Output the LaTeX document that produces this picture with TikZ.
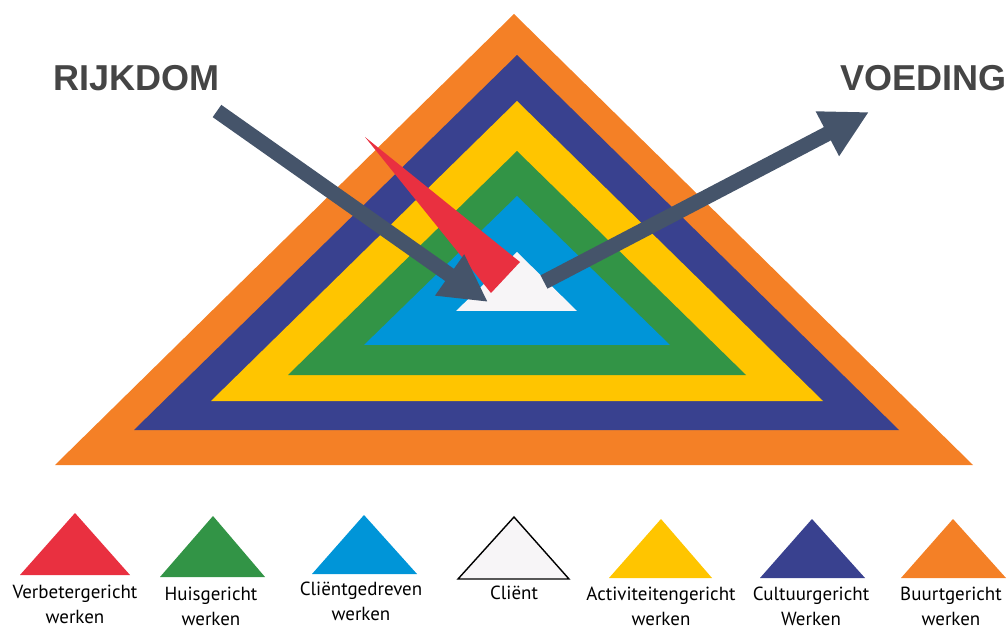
\documentclass[tikz,border=0pt]{standalone}
\usepackage{fontspec}
\setmainfont{PT Sans}
\newfontfamily\headfont{Liberation Sans}
\usepackage{tikz}
\usetikzlibrary{arrows.meta,positioning}
\definecolor{BandOrange}{RGB}{244,128,38}
\definecolor{BandNavy}{RGB}{57,65,143}
\definecolor{BandYellow}{RGB}{255,197,0}
\definecolor{BandGreen}{RGB}{50,148,70}
\definecolor{BandSky}{RGB}{0,149,216}
\definecolor{BandRed}{RGB}{233,48,64}
\definecolor{ClientWhite}{RGB}{247,245,247}
\definecolor{ArrowSlate}{RGB}{69,84,106}
\definecolor{HeadGray}{RGB}{69,69,69}
\tikzset{
  heading/.style={font=\headfont\bfseries\fontsize{20.5}{24}\selectfont,text=HeadGray,anchor=base west,inner sep=0pt},
  leglabel/.style={font=\fontsize{10.8}{14.2}\selectfont,align=center,anchor=base,inner sep=0pt,text=black},
  bigarr/.style={-{Triangle[length=0.94cm,width=0.94cm]},ArrowSlate,line width=0.3cm},
}

\begin{document}
\begin{tikzpicture}[x=0.02cm,y=-0.02cm]
    \useasboundingbox (0,0) rectangle (1008,628);
    %% Nested bands
    \fill[BandOrange] (514,14)  -- (973,465) -- (55,465)  -- cycle;
    \fill[BandNavy]   (517,55)  -- (899,430) -- (134,430) -- cycle;
    \fill[BandYellow] (517,101) -- (823,401) -- (211,401) -- cycle;
    \fill[BandGreen]  (517,151) -- (746,375) -- (288,375) -- cycle;
    \fill[BandSky]    (517,196) -- (670,345) -- (364,345) -- cycle;
    \fill[ClientWhite](517,252) -- (577,311) -- (456,311) -- cycle;
    %% Red wedge
    \fill[BandRed] (365,137) -- (520,262) -- (491,293) -- cycle;
    %% Headings
    \node[heading] (rijkdom) at (53,91)  {RIJKDOM};
    \node[heading] (voeding) at (840,91) {VOEDING};
    %% Arrows
    \coordinate (rijkTail) at (217,111);
    \coordinate (rijkTip)  at (488,302);
    \coordinate (voedTail) at (544,282);
    \coordinate (voedTip)  at (869,112);
    \draw[bigarr] (rijkTail) -- (rijkTip);
    \draw[bigarr] (voedTail) -- (voedTip);
    %% Legend
    \fill[BandRed]    (75,513)  -- (130,575) -- (20,575)  -- cycle;
    \fill[BandGreen]  (213,516) -- (265,577) -- (160,577) -- cycle;
    \fill[BandSky]    (364,515) -- (417,574) -- (312,574) -- cycle;
    \filldraw[ClientWhite,draw=black,line width=0.8pt] (514,517) -- (569,579) -- (458,579) -- cycle;
    \fill[BandYellow] (661,519) -- (712,578) -- (609,578) -- cycle;
    \fill[BandNavy]   (812,519) -- (865,578) -- (760,578) -- cycle;
    \fill[BandOrange] (953,519) -- (1006,578) -- (901,578) -- cycle;
    %% Legend labels (base = last line)
    \node[leglabel] (verbeter) at (75,623)  {Verbetergericht\\werken};
    \node[leglabel] (huis)     at (211,625) {Huisgericht\\werken};
    \node[leglabel] (gedreven) at (361,620) {Cliëntgedreven\\werken};
    \node[leglabel] (client)   at (514,599) {Cliënt};
    \node[leglabel] (activ)    at (661,625) {Activiteitengericht\\werken};
    \node[leglabel] (cultuur)  at (811,625) {Cultuurgericht\\Werken};
    \node[leglabel] (buurt)    at (951,625) {Buurtgericht\\werken};
  \end{tikzpicture}
\end{document}
